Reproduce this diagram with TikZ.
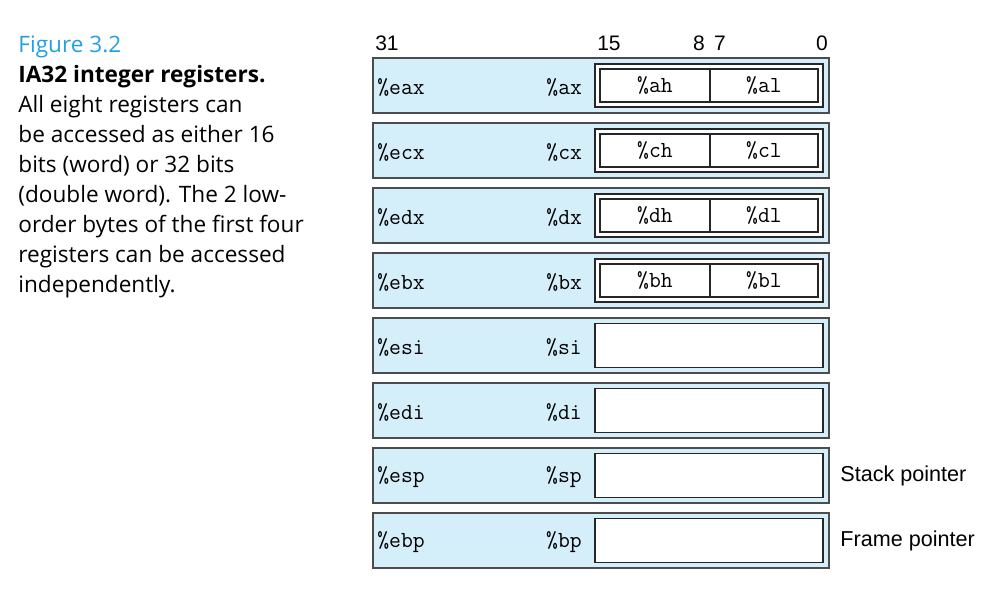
\documentclass[tikz,border=0pt]{standalone}
\usepackage{fontspec}
\setmainfont{Open Sans}
\newfontfamily\labelfont{Liberation Sans}
\usetikzlibrary{positioning}
\definecolor{regblue}{RGB}{212,238,250}
\definecolor{figblue}{RGB}{35,160,225}

\begin{document}
\begin{tikzpicture}[
  x=0.5pt, y=-0.5pt,
  reg/.style={draw=black!70, line width=1pt, fill=regblue, inner sep=0pt,
    minimum width=228pt, minimum height=27.5pt}, % 32 bit register
  word/.style={draw=black!85, fill=white, line width=0.6pt, inner sep=0pt,
    minimum width=114pt, minimum height=21.5pt}, % low 16 bits
  wordonly/.style={word, line width=0.9pt, minimum height=22pt},
  byte/.style={draw=black!85, line width=0.9pt, inner sep=0pt,
    minimum height=16.5pt, font=\fontsize{11.5}{12}\ttfamily},
  regname/.style={inner sep=0pt, font=\fontsize{11.5}{12}\ttfamily},
  bitno/.style={inner sep=0pt, font=\fontsize{10.5}{12}\labelfont},
  note/.style={inner sep=0pt, anchor=west, font=\fontsize{10.8}{13}\labelfont}
]
\useasboundingbox (0,0) rectangle (998,607);

% Caption
\node[anchor=north west, inner sep=0pt, align=left,
  font=\fontsize{11.3}{15}\selectfont] (caption) at (18,36)
  {\textcolor{figblue}{Figure 3.2}\\
   \textbf{IA32 integer registers.}\\
   All eight registers can\\
   be accessed as either 16\\
   bits (word) or 32 bits\\
   (double word). The 2 low-\\
   order bytes of the first four\\
   registers can be accessed\\
   independently.};

% Bit positions
\node[bitno] (b31) at (387,43.5) {31};
\node[bitno] (b15) at (609,43.5) {15};
\node[bitno] (b8) at (699,43.5) {8};
\node[bitno] (b7) at (720,43.5) {7};
\node[bitno] (b0) at (822,43.5) {0};

% Registers with byte access
\foreach \r/\w/\hi/\lo [count=\i from 0] in {eax/ax/ah/al, ecx/cx/ch/cl, edx/dx/dh/dl, ebx/bx/bh/bl}{
  \node[reg] (\r) at (601,{85.5+65*\i}) {};
  \node[word] (\w) at (709,{85.5+65*\i}) {};
  \node[byte, minimum width=55pt] (\hi) at (655,{85.5+65*\i}) {\%\hi};
  \node[byte, minimum width=54pt] (\lo) at (764,{85.5+65*\i}) {\%\lo};
  \node[regname, anchor=west] (\r name) at ([xshift=2.5pt,yshift=-0.8pt]\r.west) {\%\r};
  \node[regname, anchor=east] (\w name) at ([xshift=-6pt,yshift=-0.8pt]\w.west) {\%\w};
}

% Registers without byte access
\foreach \r/\w [count=\i from 4] in {esi/si, edi/di, esp/sp, ebp/bp}{
  \node[reg] (\r) at (601,{85.5+65*\i}) {};
  \node[wordonly] (\w) at (709,{85.5+65*\i}) {};
  \node[regname, anchor=west] (\r name) at ([xshift=2.5pt,yshift=-0.8pt]\r.west) {\%\r};
  \node[regname, anchor=east] (\w name) at ([xshift=-6pt,yshift=-0.8pt]\w.west) {\%\w};
}

% Special purpose
\node[note, right=5pt of esp] (stack) {Stack pointer};
\node[note, right=5pt of ebp] (frame) {Frame pointer};
\end{tikzpicture}
\end{document}
